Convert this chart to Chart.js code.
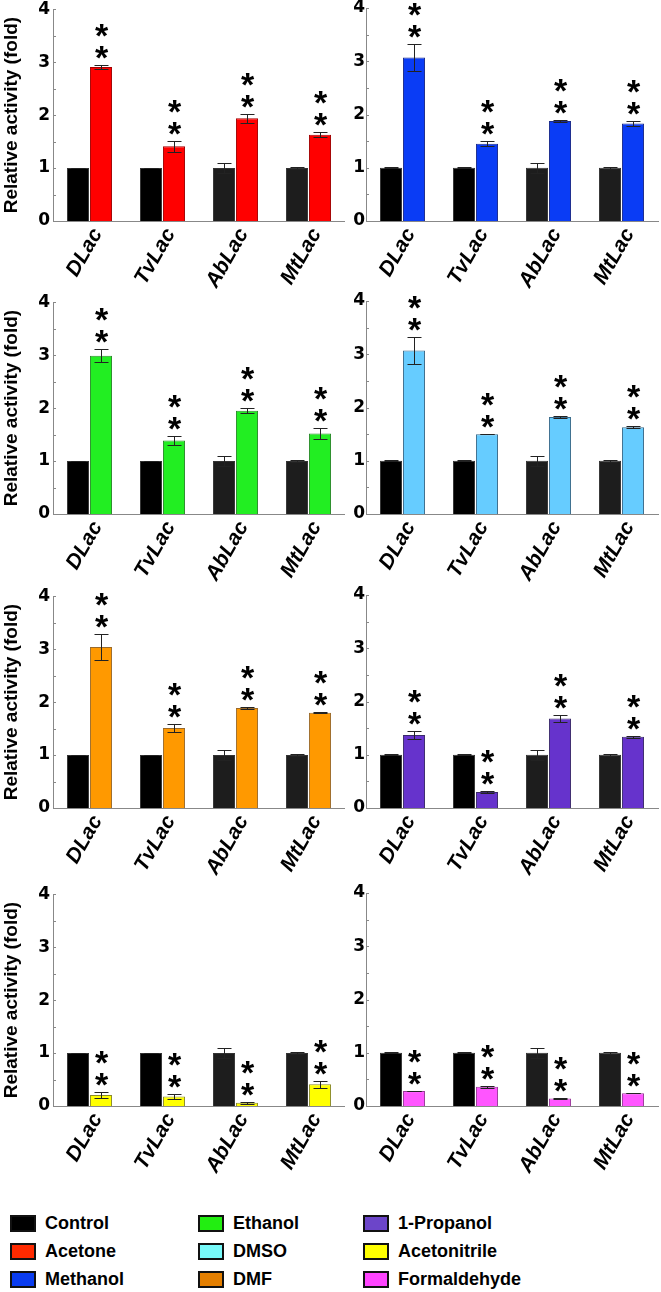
<!DOCTYPE html>
<html lang="en">
<head>
<meta charset="UTF-8">
<title>Relative activity of laccases in organic solvents</title>
<script src="https://cdn.jsdelivr.net/npm/chart.js"></script>
<style>
  body { margin: 0; background: #fff; font-family: 'Liberation Sans', Arial, sans-serif; }
  #page { position: relative; width: 661px; height: 1292px; overflow: hidden; }
  canvas { position: absolute; }
  .key { position: absolute; display: flex; align-items: center; height: 20px; font-size: 18px; font-weight: bold; color: #000; white-space: nowrap; }
  .key span { display: inline-block; width: 22px; height: 13px; border: 2px solid #111; margin-right: 9px; }
</style>
</head>
<body>
<div id="page"></div>
<script>
// data
const enzymes = ['DLac', 'TvLac', 'AbLac', 'MtLac'];
const yTicks = [0, 1, 2, 3, 4];

const controlVals = [1.00, 1.00, 1.00, 1.00];
const controlErr  = [0.005, 0.005, 0.09, 0.02];

const acetoneVals = [2.91, 1.41, 1.94, 1.63];
const acetoneErr  = [0.03, 0.10, 0.09, 0.05];
const methanolVals = [3.07, 1.45, 1.88, 1.83];
const methanolErr  = [0.26, 0.05, 0.02, 0.05];
const ethanolVals = [2.99, 1.39, 1.95, 1.52];
const ethanolErr  = [0.12, 0.08, 0.05, 0.10];
const dmsoVals = [3.07, 1.50, 1.82, 1.63];
const dmsoErr  = [0.26, 0.005, 0.02, 0.02];
const dmfVals = [3.04, 1.51, 1.89, 1.80];
const dmfErr  = [0.25, 0.07, 0.02, 0.01];
const propanolVals = [1.37, 0.30, 1.68, 1.34];
const propanolErr  = [0.08, 0.02, 0.06, 0.02];
const acetonitrileVals = [0.21, 0.18, 0.06, 0.41];
const acetonitrileErr  = [0.05, 0.05, 0.02, 0.07];
const formaldehydeVals = [0.28, 0.36, 0.14, 0.24];
const formaldehydeErr  = [0.005, 0.02, 0.01, 0.005];

const seriesNames = ['Control', 'Acetone', 'Methanol', 'Ethanol', 'DMSO', 'DMF', '1-Propanol', 'Acetonitrile', 'Formaldehyde'];

// styling
const fillColors = ['#000000', '#ff0000', '#0a3cf5', '#22ee22', '#66ccff', '#ff9900', '#6633cc', '#ffff00', '#ff55ff'];
const edgeColors = ['#333333', '#a00000', '#1a2a8a', '#2a8a2a', '#3a6a8a', '#9a6a2a', '#3a2a6a', '#8a8a2a', '#9a3a9a'];
const keyColors  = ['#000000', '#ff2a00', '#0a3cf0', '#22ee11', '#77fafa', '#e47f00', '#6c45c9', '#ffff00', '#ff44ff'];
const ctrlFill = ['#000000', '#000000', '#1d1d1d', '#1d1d1d'];

const treated = [
  [acetoneVals, acetoneErr], [methanolVals, methanolErr],
  [ethanolVals, ethanolErr], [dmsoVals, dmsoErr],
  [dmfVals, dmfErr], [propanolVals, propanolErr],
  [acetonitrileVals, acetonitrileErr], [formaldehydeVals, formaldehydeErr]
];

const rowTops = [8, 301, 595, 893];   // pixel of y=4 in each row
const padTop = 12;
const plotH = 213;
const rowHeights = [293, 294, 298, 300];

const fontFam = "'Liberation Sans', Arial, sans-serif";

// error bars, significance stars and inward minor ticks
const marks = {
  id: 'marks',
  afterDatasetsDraw(chart) {
    const ctx = chart.ctx, y = chart.scales.y, area = chart.chartArea;
    ctx.save();
    ctx.strokeStyle = '#888';
    ctx.lineWidth = 1;
    for (let i = 0; i < yTicks.length; i++) {
      [yTicks[i], yTicks[i] + 0.5].forEach(v => {
        if (v > yTicks[yTicks.length - 1]) return;
        const py = Math.round(y.getPixelForValue(v)) + 0.5;
        ctx.beginPath();
        ctx.moveTo(area.left, py);
        ctx.lineTo(area.left + 3, py);
        ctx.stroke();
      });
    }
    ctx.font = 'bold 34px ' + fontFam;
    ctx.textAlign = 'center';
    ctx.textBaseline = 'alphabetic';
    const m = ctx.measureText('*');
    const shift = (m.actualBoundingBoxAscent - m.actualBoundingBoxDescent) / 2;
    chart.data.datasets.forEach((ds, i) => {
      const meta = chart.getDatasetMeta(i);
      meta.data.forEach((bar, j) => {
        const v = ds.data[j], e = ds.err[j];
        const top = Math.round(y.getPixelForValue(v + e)) + 0.5;
        const bot = Math.round(y.getPixelForValue(v - e)) + 0.5;
        const x = Math.round(bar.x) + 0.5;
        ctx.strokeStyle = '#222';
        ctx.beginPath();
        ctx.moveTo(x, top); ctx.lineTo(x, bot);
        ctx.moveTo(x - 7, top); ctx.lineTo(x + 7, top);
        ctx.moveTo(x - 7, bot); ctx.lineTo(x + 7, bot);
        ctx.stroke();
        if (ds.stars) {
          ctx.fillStyle = '#000';
          for (let k = 0; k < 2; k++) {
            const cy = top - 13 - 22 * k;
            ctx.fillText('*', x, cy + shift);
          }
        }
      });
    });
    ctx.restore();
  }
};

const page = document.getElementById('page');

treated.forEach(([vals, err], p) => {
  const row = Math.floor(p / 2), col = p % 2;
  const left = col === 0;
  const cw = left ? 345 : 316;
  const ch = rowHeights[row];
  const cv = document.createElement('canvas');
  cv.width = cw; cv.height = ch;
  cv.style.left = (left ? 0 : 345) + 'px';
  cv.style.top = (rowTops[row] - padTop) + 'px';
  page.appendChild(cv);

  new Chart(cv, {
    type: 'bar',
    data: {
      labels: enzymes,
      datasets: [
        { label: seriesNames[0], data: controlVals, err: controlErr,
          backgroundColor: ctrlFill, borderColor: edgeColors[0], borderWidth: 1 },
        { label: seriesNames[p + 1], data: vals, err: err, stars: true,
          backgroundColor: fillColors[p + 1], borderColor: edgeColors[p + 1], borderWidth: 1 }
      ]
    },
    options: {
      responsive: false,
      animation: false,
      layout: { padding: { top: padTop, right: left ? 0 : 3, left: 0, bottom: 0 } },
      datasets: { bar: { categoryPercentage: 0.63, barPercentage: 0.96 } },
      plugins: { legend: { display: false }, tooltip: { enabled: false } },
      scales: {
        x: {
          grid: { display: false, drawTicks: false },
          border: { color: '#888', width: 1 },
          ticks: {
            color: '#000', minRotation: 60, maxRotation: 60, padding: 3, labelOffset: 8,
            font: { family: fontFam, size: 21, weight: 'bold', style: 'italic' }
          },
          afterFit: s => { s.height = ch - padTop - plotH; }
        },
        y: {
          min: yTicks[0], max: yTicks[yTicks.length - 1],
          afterBuildTicks: s => { s.ticks = yTicks.map(v => ({ value: v })); },
          grid: { display: false, drawTicks: false },
          border: { color: '#888', width: 1 },
          ticks: { color: '#000', padding: left ? 3 : 1, font: { family: "'DejaVu Sans', sans-serif", size: 17, weight: 'bold' } },
          title: {
            display: left, text: 'Relative activity (fold)', color: '#000',
            padding: 0, font: { family: fontFam, size: 19, weight: 'bold' }
          },
          afterFit: s => { s.width = left ? 53 : 21; }
        }
      }
    },
    plugins: [marks]
  });
});

// legend, three columns of three
const keyX = [10, 198, 363];
seriesNames.forEach((name, i) => {
  const c = Math.floor(i / 3), r = i % 3;
  const d = document.createElement('div');
  d.className = 'key';
  d.style.left = keyX[c] + 'px';
  d.style.top = (1213 + 28 * r) + 'px';
  const sw = document.createElement('span');
  sw.style.background = keyColors[i];
  d.appendChild(sw);
  d.appendChild(document.createTextNode(name));
  page.appendChild(d);
});
</script>
</body>
</html>
